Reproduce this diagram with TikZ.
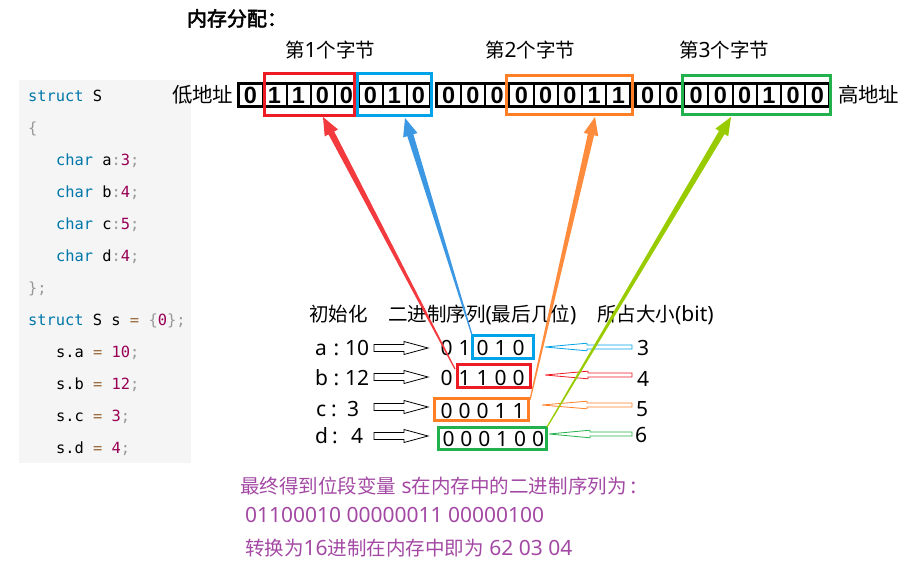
\documentclass[tikz,border=0pt]{standalone}
\usepackage{fontspec}
\setmainfont{Noto Sans}
\newfontfamily\cjk{Noto Sans CJK SC}[Scale=0.93]
\newfontfamily\cjkfb{Noto Sans CJK SC}[Scale=0.93,FakeBold=2.5]
\newfontfamily\codefont{DejaVu Sans Mono}
\newfontfamily\memfont{Liberation Sans}
\usetikzlibrary{calc}
\definecolor{mred}{HTML}{ED1C24}
\definecolor{mblue}{HTML}{00A2E8}
\definecolor{morange}{HTML}{FF7F27}
\definecolor{mgreen}{HTML}{22B14C}
\definecolor{ared}{HTML}{F23A3F}
\definecolor{ablue}{HTML}{3D98E3}
\definecolor{aorange}{HTML}{FF8B3D}
\definecolor{agreen}{HTML}{99CC00}
\definecolor{purp}{HTML}{A349A4}
\definecolor{codebg}{HTML}{F5F5F5}
\definecolor{ckw}{HTML}{0077AA}
\definecolor{cpu}{HTML}{999999}
\definecolor{cnum}{HTML}{990055}
\definecolor{cop}{HTML}{9A6E3A}
\newcommand\fs[1]{\fontsize{#1}{#1}\selectfont}
\newcommand\kw[1]{\textcolor{ckw}{#1}}
\newcommand\pu[1]{\textcolor{cpu}{#1}}
\newcommand\nm[1]{\textcolor{cnum}{#1}}
\newcommand\op[1]{\textcolor{cop}{#1}}
\tikzset{
  txt/.style={inner sep=0pt, outer sep=0pt, anchor=base west},
  ctxt/.style={inner sep=0pt, outer sep=0pt, anchor=base},
  code/.style={txt, font=\codefont\fs{15.4}},
  memdig/.style={ctxt, font=\memfont\bfseries\fs{23.5}},
  midtxt/.style={txt, font=\fs{21}},
  middig/.style={ctxt, font=\fs{21}},
  colbox/.style={draw=#1, line width=3pt, inner sep=0pt, outer sep=0pt},
  purptxt/.style={txt, font=\fs{21}, text=purp}
}
% memory byte: name, left x, right x, bits
\newcommand\membyte[4]{%
  \foreach \k in {1,...,7} {\draw[line width=2pt] ({#2+(#3-#2)*\k/8},83.5) -- ({#2+(#3-#2)*\k/8},107);}
  \draw[line width=3pt] (#2,83.5) rectangle (#3,107);
  \foreach \d [count=\k] in {#4} {\node[memdig] (m#1\k) at ({#2+(#3-#2)*(\k-0.5)/8},104) {\d};}
}
% tapered arrow: colour, start, tip, head-base name
\newcommand\wedgearrow[4]{%
  \coordinate (#4) at ($(#3)!18pt!(#2)$);
  \fill[#1] ($(#2)!0.6pt!90:(#3)$) -- ($(#4)!3.2pt!90:(#3)$) -- ($(#4)!7.5pt!90:(#3)$) -- (#3)
    -- ($(#4)!7.5pt!-90:(#3)$) -- ($(#4)!3.2pt!-90:(#3)$) -- ($(#2)!0.6pt!-90:(#3)$) -- cycle;}
\newcommand\hollowR[1]{\draw[line width=0.8pt, fill=white] (374,{#1-3.5}) -- (404,{#1-3.5}) -- (404,{#1-6.5}) -- (428,#1) -- (404,{#1+6.5}) -- (404,{#1+3.5}) -- (374,{#1+3.5}) -- cycle;}
\newcommand\smallL[4]{\draw[#1, line width=0.8pt, fill=white] (632,{#2-2}) -- (#4,{#2-2}) -- (#4,{#2-3.8}) -- (#3,#2) -- (#4,{#2+3.8}) -- (#4,{#2+2}) -- (632,{#2+2}) -- cycle;}
\begin{document}
\begin{tikzpicture}[x=1pt,y=-1pt]
\useasboundingbox (0,0) rectangle (907,567);
% code panel
\fill[codebg] (19,80) rectangle (191,463);
\node[code] (c1) at (28,101.5) {\kw{struct} S};
\node[code] (c2) at (28,133.5) {\pu{\{}};
\node[code] (c3) at (56,165.5) {\kw{char} a\pu{:}\nm{3}\pu{;}};
\node[code] (c4) at (56,197.5) {\kw{char} b\pu{:}\nm{4}\pu{;}};
\node[code] (c5) at (56,229.5) {\kw{char} c\pu{:}\nm{5}\pu{;}};
\node[code] (c6) at (56,261.5) {\kw{char} d\pu{:}\nm{4}\pu{;}};
\node[code] (c7) at (28,293.5) {\pu{\};}};
\node[code] (c8) at (28,325.5) {\kw{struct} S s \op{=} \pu{\{}\nm{0}\pu{\};}};
\node[code] (c9) at (56,357.5) {s.a \op{=} \nm{10}\pu{;}};
\node[code] (c10) at (56,389.5) {s.b \op{=} \nm{12}\pu{;}};
\node[code] (c11) at (56,421.5) {s.c \op{=} \nm{3}\pu{;}};
\node[code] (c12) at (56,453.5) {s.d \op{=} \nm{4}\pu{;}};
% titles
\node[txt, font=\fs{21.5}\cjkfb] (title) at (187,26) {内存分配：};
\node[midtxt] (h1) at (285,58) {{\cjk 第}1{\cjk 个字节}};
\node[midtxt] (h2) at (485,58) {{\cjk 第}2{\cjk 个字节}};
\node[midtxt] (h3) at (679,58) {{\cjk 第}3{\cjk 个字节}};
\node[txt, font=\fs{22}\cjk] (low) at (172,102.5) {低地址};
\node[txt, font=\fs{22}\cjk] (high) at (838,102.5) {高地址};
% memory
\membyte{A}{238.5}{430.5}{0,1,1,0,0,0,1,0}
\membyte{B}{436.5}{630.5}{0,0,0,0,0,0,1,1}
\membyte{C}{635.5}{829.5}{0,0,0,0,0,1,0,0}
\node[colbox=mred, minimum width=89.5pt, minimum height=42pt] (memR) at (309.25,95) {};
\node[colbox=mblue, minimum width=74pt, minimum height=42pt] (memB) at (394,95) {};
\node[colbox=morange, minimum width=125.5pt, minimum height=39.5pt] (memO) at (569.25,95.25) {};
\node[colbox=mgreen, minimum width=147.5pt, minimum height=39pt] (memG) at (756.25,95.5) {};
% headers of the middle table
\node[txt, font=\fs{21}\cjk] (t1) at (309,321) {初始化};
\node[midtxt] (t2) at (388,321) {{\cjk 二进制序列}({\cjk 最后几位})};
\node[midtxt] (t3) at (597,321) {{\cjk 所占大小}(bit)};
% row labels
\node[midtxt] (la) at (315,355) {a};
\node[middig] (lac) at (336.5,355) {:};
\node[midtxt] (lan) at (345,355) {10};
\node[midtxt] (lb) at (315,385.5) {b};
\node[middig] (lbc) at (336.5,385.5) {:};
\node[midtxt] (lbn) at (345,385.5) {12};
\node[midtxt] (lc) at (316,416) {c};
\node[middig] (lcc) at (334,416) {:};
\node[midtxt] (lcn) at (347,416) {3};
\node[midtxt] (ld) at (315,443.5) {d};
\node[middig] (ldc) at (335,443.5) {:};
\node[midtxt] (ldn) at (351,443.5) {4};
\hollowR{348}
\hollowR{377}
\hollowR{407}
\hollowR{436}
% binary digits
\foreach \d [count=\k] in {0,1,0,1,0} {\node[middig] (da\k) at ({446.5+18*(\k-1)},355) {\d};}
\foreach \d [count=\k] in {0,1,1,0,0} {\node[middig] (db\k) at ({446.5+18*(\k-1)},385.5) {\d};}
\foreach \d [count=\k] in {0,0,0,1,1} {\node[middig] (dc\k) at ({446.5+18*(\k-1)},418) {\d};}
\foreach \d [count=\k] in {0,0,0,1,0,0} {\node[middig] (dd\k) at ({448.5+17.9*(\k-1)},446.5) {\d};}
\node[colbox=mblue, minimum width=61pt, minimum height=23pt] (ba) at (503,347) {};
\node[colbox=mred, minimum width=73pt, minimum height=23pt] (bb) at (494,376) {};
\node[colbox=morange, minimum width=94pt, minimum height=22pt] (bc) at (481.5,409.5) {};
\node[colbox=mgreen, minimum width=108pt, minimum height=22pt] (bd) at (492.5,438.5) {};
% sizes
\node[middig] (sa) at (643,355) {3};
\node[middig] (sb) at (643,386) {4};
\node[middig] (sc) at (642,416) {5};
\node[middig] (sd) at (641,442) {6};
\smallL{mblue}{347}{545}{587}
\smallL{mred}{375}{545}{588}
\smallL{morange}{405}{542}{587}
\smallL{mgreen}{434}{549}{590}
% big arrows
\coordinate (sR) at (455,369);  \coordinate (tR) at (323,117);
\coordinate (sB) at (472,335);  \coordinate (tB) at (405,118);
\coordinate (sO) at (530,400);  \coordinate (tO) at (595,117);
\coordinate (sG) at (547,427);  \coordinate (tG) at (731,117);
\wedgearrow{ared}{sR}{tR}{hR}
\wedgearrow{ablue}{sB}{tB}{hB}
\wedgearrow{aorange}{sO}{tO}{hO}
\wedgearrow{agreen}{sG}{tG}{hG}
% bottom text
\node[purptxt] (r1) at (240,493) {{\cjk 最终得到位段变量} s{\cjk 在内存中的二进制序列为}\hspace{4pt}:};
\node[purptxt] (r2) at (245,522) {01100010 00000011 00000100};
\node[purptxt] (r3) at (245,555) {{\cjk 转换为}16{\cjk 进制在内存中即为} 62 03 04};
\end{tikzpicture}
\end{document}
